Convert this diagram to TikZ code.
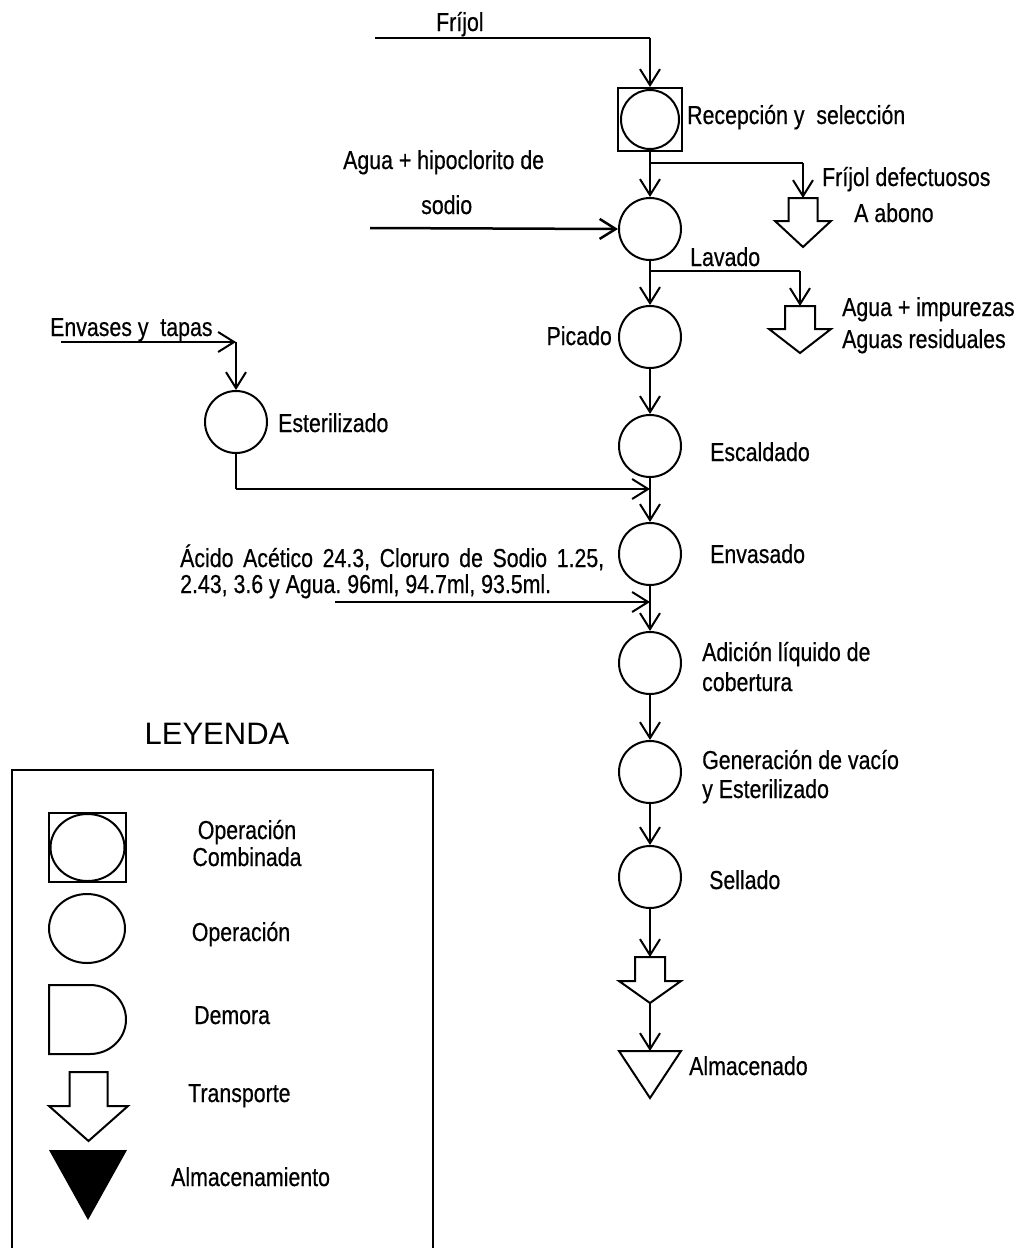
\documentclass[tikz,border=0pt]{standalone}
\usepackage{fontspec}
\setmainfont{Liberation Sans}[FakeStretch=0.82,FakeBold=0.5]
\newfontfamily\legfont{Liberation Sans}
\usetikzlibrary{arrows.meta,calc,shapes.geometric}
\frenchspacing
\newcommand\transp[7]{%
  \coordinate (#1) at (#2,#3);
  \draw[shp] ($(#1)+(-#4,0)$) -- ($(#1)+(-#4,#6)$) -- ($(#1)+(-#5,#6)$) -- ($(#1)+(0,#7)$)
    -- ($(#1)+(#5,#6)$) -- ($(#1)+(#4,#6)$) -- ($(#1)+(#4,0)$) -- cycle;
  \coordinate (#1tip) at ($(#1)+(0,#7)$);}
\begin{document}
\begin{tikzpicture}[x=1pt,y=-1pt,
  shp/.style={line width=2pt,line join=miter},
  op/.style={draw,circle,line width=2pt,minimum size=62pt,inner sep=0pt},
  flow/.style={line width=2pt,-{Straight Barb[length=16pt,width=20pt]}},
  thin/.style={line width=1.3pt},
  lbl/.style={inner sep=0pt,anchor=base west,font=\fontsize{26}{30}\selectfont}]
\useasboundingbox (0,0) rectangle (1023,1248);

% ---------- main column ----------
\node[draw,line width=2pt,minimum width=64pt,minimum height=63pt,inner sep=0pt] (rec) at (650,119.5) {};
\draw[line width=2pt] (rec.center) ellipse [x radius=29, y radius=29.5];
\node[op] (lav) at (650,229) {};
\node[op] (pic) at (650,337) {};
\node[op] (esc) at (650,446) {};
\node[op] (env) at (650,554) {};
\node[op] (adi) at (650,663) {};
\node[op] (gen) at (650,772) {};
\node[op] (sel) at (650,877) {};
\node[op] (est) at (236,422) {};

\transp{t1}{803}{198}{14.5}{28}{23}{49}
\transp{t2}{800}{306}{15}{31}{23}{47}
\transp{t3}{650}{957}{15}{31}{24}{46}
\coordinate (alm) at (650,1051);
\draw[shp] (619,1051) -- (681,1051) -- (650,1098) -- cycle;

% inputs and flows
\coordinate (fin) at (375,38);
\coordinate (fc) at (650,38);
\draw[thin] (fin) -- (fc);
\draw[flow] (fc) -- (rec.north);
\coordinate (b1) at (650,163);
\coordinate (b1r) at (803,163);
\draw[thin] (b1) -- (b1r);
\draw[flow] (b1r) -- (t1);
\draw[flow] (rec.south) -- (lav.north);
\coordinate (ain) at (370,228);
\draw[flow,line width=2.5pt] (ain) -- (lav.west);
\draw[flow] (lav.south) -- (pic.north);
\coordinate (b2) at (650,271);
\coordinate (b2r) at (800,271);
\draw[thin] (b2) -- (b2r);
\draw[flow] (b2r) -- (t2);
\coordinate (evin) at (61,342);
\coordinate (evc) at (236,342);
\draw[flow] (evin) -- (evc);
\draw[flow] (evc) -- (est.north);
\draw[flow] (pic.south) -- (esc.north);
\coordinate (estc) at (236,489);
\coordinate (estj) at (650,489);
\draw[line width=2pt] (est.south) -- (estc);
\draw[flow] (estc) -- (estj);
\draw[flow] (esc.south) -- (env.north);
\coordinate (acin) at (335,602);
\coordinate (acj) at (650,602);
\draw[flow] (acin) -- (acj);
\draw[flow] (env.south) -- (adi.north);
\draw[flow] (adi.south) -- (gen.north);
\draw[flow] (gen.south) -- (sel.north);
\draw[flow] (sel.south) -- (t3);
\draw[flow] (t3tip) -- (alm);

% labels
\node[lbl] (lfr) at (436,31) {Fríjol};
\node[lbl] (lrec) at (687,124) {Recepción y\ \ selección};
\node[lbl] (ldef) at (822,186) {Fríjol defectuosos};
\node[lbl] (labo) at (854,222) {A abono};
\node[lbl] (lagua) at (343,169) {Agua + hipoclorito de};
\node[lbl] (lsod) at (421,214) {sodio};
\node[lbl] (llav) at (690,266) {Lavado};
\node[lbl] (limp) at (842,316) {Agua + impurezas};
\node[lbl] (lres) at (842,348) {Aguas residuales};
\node[lbl,anchor=base east] (lpic) at (612,345) {Picado};
\node[lbl] (lenv) at (50,336) {Envases y\ \ tapas};
\node[lbl] (lest) at (278,432) {Esterilizado};
\node[lbl] (lesc) at (710,461) {Escaldado};
\node[lbl] (lenv2) at (710,563) {Envasado};
\node[lbl] (lac1) at (180,567) {\hbox to 424pt{Ácido Acético 24.3, Cloruro de Sodio 1.25,}};
\node[lbl] (lac2) at (180,593) {2.43, 3.6 y Agua. 96ml, 94.7ml, 93.5ml.};
\node[lbl] (ladi1) at (702,661) {Adición líquido de};
\node[lbl] (ladi2) at (702,691) {cobertura};
\node[lbl] (lgen1) at (702,769) {Generación de vacío};
\node[lbl] (lgen2) at (702,798) {y Esterilizado};
\node[lbl] (lsel) at (709,889) {Sellado};
\node[lbl] (lalm) at (689,1075) {Almacenado};

% ---------- legend ----------
\node[inner sep=0pt,anchor=base,font=\legfont\fontsize{31}{36}\selectfont] (ley) at (217,744) {LEYENDA};
\draw[line width=2pt] (12,1252) -- (12,770) -- (433,770) -- (433,1252);
\node[draw,line width=2pt,minimum width=77pt,minimum height=69pt,inner sep=0pt] (gcomb) at (87.5,847.5) {};
\draw[line width=2pt] (gcomb.center) ellipse [x radius=37, y radius=33.5];
\node[draw,ellipse,line width=2pt,minimum width=76pt,minimum height=69pt,inner sep=0pt] (gop) at (87,928.5) {};
\coordinate (gdem) at (49,985);
\draw[shp] (gdem) -- (90,985) arc[start angle=-90,end angle=90,x radius=36,y radius=34.5] -- (49,1054) -- cycle;
\transp{gtr}{88.5}{1072}{19}{39.5}{34}{69}
\coordinate (galm) at (88,1150);
\fill (49,1150) -- (127,1150) -- (88,1220) -- cycle;
\node[lbl,anchor=base] (lg1) at (247,839) {Operación};
\node[lbl,anchor=base] (lg1b) at (247,866) {Combinada};
\node[lbl,anchor=base] (lg2) at (241,941) {Operación};
\node[lbl] (lg3) at (194,1024) {Demora};
\node[lbl] (lg4) at (188,1102) {Transporte};
\node[lbl] (lg5) at (171,1186) {Almacenamiento};
\end{tikzpicture}
\end{document}
